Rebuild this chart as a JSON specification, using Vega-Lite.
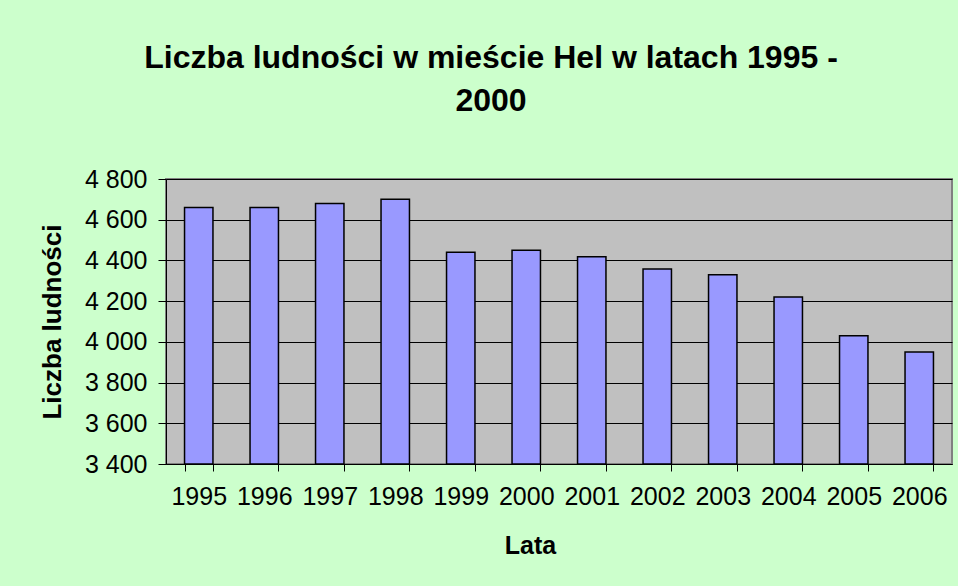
{
  "$schema": "https://vega.github.io/schema/vega-lite/v6.json",
  "autosize": {"type": "none"},
  "width": 786,
  "height": 285,
  "padding": {"left": 166, "top": 179, "right": 6, "bottom": 122},
  "background": "#CCFFCC",
  "data": {
    "values": [
      {"rok": "1995", "ludnosc": 4660},
      {"rok": "1996", "ludnosc": 4660},
      {"rok": "1997", "ludnosc": 4680},
      {"rok": "1998", "ludnosc": 4700},
      {"rok": "1999", "ludnosc": 4440},
      {"rok": "2000", "ludnosc": 4450},
      {"rok": "2001", "ludnosc": 4418},
      {"rok": "2002", "ludnosc": 4358},
      {"rok": "2003", "ludnosc": 4330},
      {"rok": "2004", "ludnosc": 4220},
      {"rok": "2005", "ludnosc": 4030},
      {"rok": "2006", "ludnosc": 3950}
    ]
  },
  "title": {
    "text": ["Liczba ludności w mieście Hel w latach 1995 -", "2000"],
    "font": "Liberation Sans",
    "fontSize": 32,
    "fontWeight": "bold",
    "color": "#000000",
    "anchor": "middle",
    "frame": "group",
    "dx": -68,
    "offset": 49,
    "lineHeight": 43
  },
  "mark": {"type": "bar", "fill": "#9999FF", "stroke": "#000000", "strokeWidth": 1.5},
  "encoding": {
    "x": {
      "field": "rok",
      "type": "ordinal",
      "scale": {"paddingInner": 0.566, "paddingOuter": 0.283},
      "axis": {
        "title": "Lata",
        "labelAngle": 0,
        "labelFontSize": 25,
        "tickBand": "extent",
        "tickSize": 7,
        "tickColor": "#000000",
        "domainColor": "#000000",
        "labelPadding": 13,
        "titlePadding": 24,
        "titleX": 364
      }
    },
    "y": {
      "field": "ludnosc",
      "type": "quantitative",
      "scale": {"domain": [3400, 4800], "zero": false, "nice": false},
      "axis": {
        "title": "Liczba ludności",
        "values": [3400, 3600, 3800, 4000, 4200, 4400, 4600, 4800],
        "labelExpr": "replace(format(datum.value, ','), ',', ' ')",
        "labelFontSize": 25,
        "titleFontSize": 26,
        "grid": true,
        "gridColor": "#000000",
        "gridWidth": 1,
        "tickSize": 8,
        "tickColor": "#000000",
        "domainColor": "#000000",
        "labelPadding": 11,
        "titlePadding": 19
      }
    },
    "y2": {"datum": 3400}
  },
  "config": {
    "view": {"fill": "#C0C0C0", "stroke": "#808080", "strokeWidth": 2},
    "axis": {
      "labelFont": "Liberation Sans",
      "labelFontSize": 24,
      "labelColor": "#000000",
      "titleFont": "Liberation Sans",
      "titleFontSize": 25,
      "titleFontWeight": "bold",
      "titleColor": "#000000",
      "domainWidth": 1,
      "tickWidth": 1
    }
  }
}
